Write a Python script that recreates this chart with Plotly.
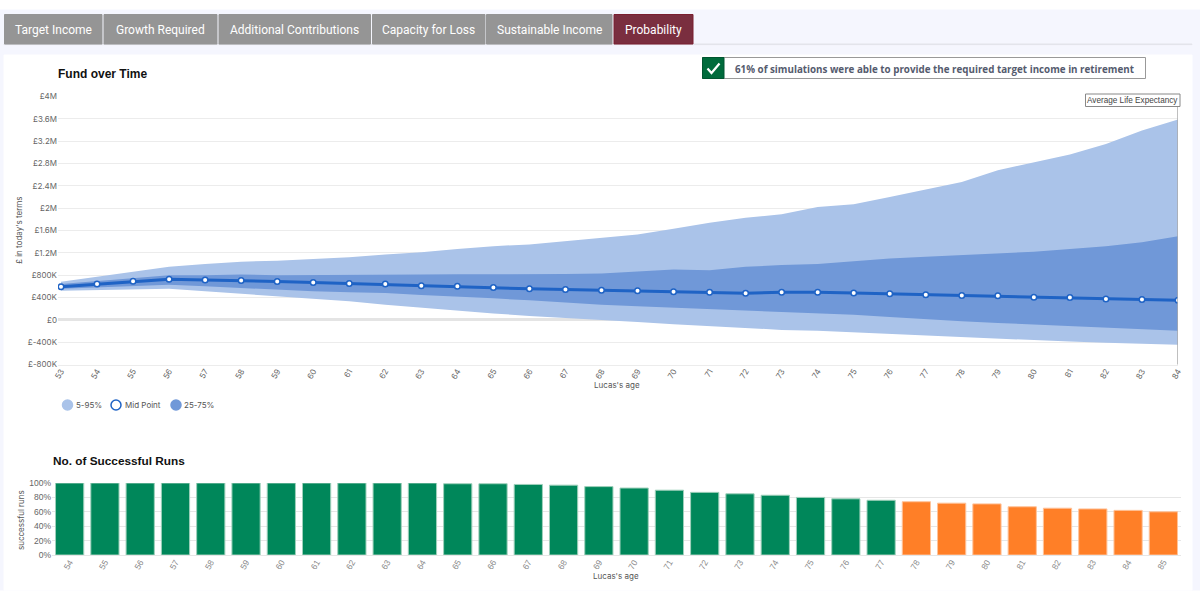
from plotly import graph_objects as go

# values in thousands of pounds
ages = list(range(53, 85))
upper_95 = [680, 770, 860, 950, 1000, 1040, 1060, 1090, 1120, 1170, 1210, 1270, 1320, 1350, 1410, 1480,
            1530, 1630, 1740, 1830, 1890, 2020, 2070, 2200, 2340, 2470, 2680, 2820, 2960, 3150, 3390, 3590]
upper_75 = [640, 690, 740, 800, 800, 810, 800, 800, 800, 800, 810, 815, 815, 810, 820, 830,
            865, 900, 890, 950, 980, 1000, 1050, 1100, 1130, 1160, 1190, 1220, 1270, 1320, 1390, 1495]
mid_point = [591, 640, 690, 728, 715, 705, 685, 670, 650, 640, 610, 600, 580, 555, 545, 530,
             520, 505, 495, 478, 495, 495, 480, 465, 450, 435, 430, 405, 400, 375, 365, 350]
lower_25 = [555, 580, 605, 627, 600, 570, 537, 510, 495, 480, 445, 418, 385, 350, 310, 270,
            245, 220, 190, 170, 143, 113, 90, 50, 10, -25, -56, -85, -115, -145, -170, -197]
lower_5 = [520, 530, 540, 555, 510, 465, 418, 375, 335, 270, 215, 165, 115, 70, 36, 0,
           -40, -80, -115, -150, -180, -197, -225, -255, -285, -315, -340, -365, -390, -410, -430, -448]

y_ticks = [-800, -400, 0, 400, 800, 1200, 1600, 2000, 2400, 2800, 3200, 3600, 4000]
y_labels = ["£-800K", "£-400K", "£0", "£400K", "£800K", "£1.2M", "£1.6M", "£2M", "£2.4M", "£2.8M", "£3.2M", "£3.6M", "£4M"]

run_ages = [str(a) for a in range(54, 86)]
run_pct = [100, 100, 100, 100, 100, 100, 100, 100, 100, 100, 100, 99, 99, 98, 97, 95,
           93, 90, 87, 85, 83, 80, 78, 76, 74, 72, 71, 67, 65, 64, 62, 60]
run_colors = ["#00875a"] * 24 + ["#ff7f27"] * 8
run_borders = ["#9fd0bb"] * 24 + ["#ffc39a"] * 8

tabs = ["Target Income", "Growth Required", "Additional Contributions", "Capacity for Loss", "Sustainable Income", "Probability"]
tab_edges = [(4.5, 102), (104, 217), (219, 370.5), (372.5, 485), (486.5, 612), (614, 693)]

LIGHT = "#aac3e9"
DARK = "#7098d8"
LINE = "#1f63c5"
W, H = 1200, 600
TICK_FONT = dict(family="Inter", size=8, color="#666666")


def fx(px):
    return px / W


def fy(py):
    return 1 - py / H


def rect(x0, y0, x1, y1, fill, line=None, width=1):
    return dict(type="rect", xref="paper", yref="paper", x0=fx(x0), x1=fx(x1), y0=fy(y0), y1=fy(y1),
                fillcolor=fill, line=dict(color=line or fill, width=width), layer="below")


def note(x, y, text, size=9, color="#555555", family="Inter", anchor="left", angle=0):
    return dict(xref="paper", yref="paper", x=fx(x), y=fy(y), text=text, showarrow=False, textangle=angle,
                xanchor=anchor, yanchor="middle", font=dict(size=size, color=color, family=family))


fig = go.Figure()

fig.add_trace(go.Scatter(x=ages, y=lower_5, mode="lines", line=dict(width=0), hoverinfo="skip", showlegend=False))
fig.add_trace(go.Scatter(x=ages, y=upper_95, mode="lines", line=dict(width=0), fill="tonexty", fillcolor=LIGHT, name="5-95%", showlegend=False))
fig.add_trace(go.Scatter(x=ages, y=lower_25, mode="lines", line=dict(width=0), hoverinfo="skip", showlegend=False))
fig.add_trace(go.Scatter(x=ages, y=upper_75, mode="lines", line=dict(width=0), fill="tonexty", fillcolor=DARK, name="25-75%", showlegend=False))
fig.add_trace(go.Scatter(x=ages, y=mid_point, mode="lines+markers", name="Mid Point", showlegend=False,
                         line=dict(color=LINE, width=3),
                         marker=dict(size=5.5, color="white", line=dict(color=LINE, width=1.5))))
fig.add_trace(go.Bar(x=run_ages, y=run_pct, xaxis="x2", yaxis="y2", showlegend=False,
                     marker=dict(color=run_colors, line=dict(color=run_borders, width=1))))

# page chrome
shapes = [
    rect(0, 10, W, 590, "#f5f6fe"),
    rect(4, 55, 1192, 590, "#ffffff"),
    rect(4, 44, 1192, 44.6, "#e3e4ea"),
]
annotations = []
for label, (x0, x1) in zip(tabs, tab_edges):
    active = label == "Probability"
    shapes.append(rect(x0, 14.5, x1, 44, "#7a2e3f" if active else "#959595", "#7a1f30" if active else "#959595"))
    annotations.append(note((x0 + x1) / 2, 29.5, label, size=12, color="#ffffff", family="Roboto", anchor="center"))

# result banner
shapes.append(rect(702.5, 57.5, 1145.5, 78.5, "#ffffff", "#999999"))
shapes.append(rect(702.5, 57.5, 724, 78.5, "#006b3c", "#005530"))
shapes.append(dict(type="path", xref="paper", yref="paper", layer="above", line=dict(color="white", width=2.2),
                   path=f"M {fx(707.5)} {fy(68.5)} L {fx(711.5)} {fy(73)} L {fx(719.5)} {fy(63.5)}"))
annotations.append(note(733, 69, "<b>61% of simulations were able to provide the required target income in retirement</b>",
                        size=9.8, color="#555b6e", family="Open Sans", anchor="left"))

# life expectancy marker
shapes.append(dict(type="line", xref="x", yref="paper", x0=84, x1=84, y0=fy(364.5), y1=fy(106),
                   line=dict(color="#aaaaaa", width=1.5), layer="above"))
shapes.append(dict(type="rect", xref="paper", yref="paper", x0=fx(1085.5), x1=fx(1180), y0=fy(94), y1=fy(106.5),
                   fillcolor="white", line=dict(color="#888888", width=1), layer="above"))
annotations.append(note(1132.5, 100.5, "Average Life Expectancy", size=8.2, color="#444444", family="Liberation Sans", anchor="center"))

# chart titles and axis titles
annotations.append(note(56, 73.5, "<b>Fund over Time</b>", size=12, color="#111111", family="Liberation Sans"))
annotations.append(note(51, 460.5, "<b>No. of Successful Runs</b>", size=11.8, color="#111111", family="Liberation Sans"))
annotations.append(note(19, 230, "£ in today's terms", size=8, color="#555555", anchor="center", angle=-90))
annotations.append(note(617, 385, "Lucas's age", size=8, color="#555555", anchor="center"))
annotations.append(note(21, 520, "successful runs", size=8, color="#555555", anchor="center", angle=-90))
annotations.append(note(616, 576, "Lucas's age", size=8, color="#555555", anchor="center"))

# hand drawn legend, the original uses round swatches
for cx, fill, line, text_x, text in [(67.5, LIGHT, LIGHT, 74, "5-95%"), (116, "#ffffff", LINE, 123, "Mid Point"), (176, DARK, DARK, 182, "25-75%")]:
    shapes.append(dict(type="circle", xref="paper", yref="paper", x0=fx(cx - 5), x1=fx(cx + 5), y0=fy(410), y1=fy(400),
                       fillcolor=fill, line=dict(color=line, width=1.5)))
    annotations.append(note(text_x, 405, text, size=8, color="#555555"))

fig.update_layout(
    width=W,
    height=H,
    margin=dict(l=0, r=0, t=0, b=0),
    paper_bgcolor="white",
    plot_bgcolor="rgba(0,0,0,0)",
    shapes=shapes,
    annotations=annotations,
    bargap=0.2,
    xaxis=dict(domain=[fx(58), fx(1178)], anchor="y", range=[52.917, 84], tickmode="array", tickvals=ages, ticktext=[str(a) for a in ages],
               tickangle=-60, showgrid=False, zeroline=False, tickfont=TICK_FONT, ticks="", showline=True, linecolor="#ececec", automargin=False,
               ticklabelstandoff=-2),
    yaxis=dict(domain=[fy(364.5), fy(96.5)], anchor="x", range=[-800, 4000], tickmode="array", tickvals=y_ticks, ticktext=y_labels,
               gridcolor="#ececec", zerolinecolor="#e4e4e4", zerolinewidth=3, tickfont=TICK_FONT, ticks="", automargin=False),
    xaxis2=dict(domain=[fx(52), fx(1181)], anchor="y2", type="category", tickangle=-60, showgrid=False,
                tickfont=dict(family="Liberation Sans", size=8.5, color="#888888"), showline=True, linecolor="#e6e6e6", automargin=False,
                ticklabelstandoff=-2),
    yaxis2=dict(domain=[fy(555), fy(483)], anchor="x2", range=[0, 100], tickmode="array", tickvals=[0, 20, 40, 60, 80, 100],
                ticktext=["0%", "20%", "40%", "60%", "80%", "100%"], gridcolor="#e6e6e6", zeroline=False,
                tickfont=dict(family="Liberation Sans", size=8.5, color="#666666"), ticks="", automargin=False),
)

fig.write_html("out.html", config=dict(displayModeBar=False), post_script="document.body.style.margin='0';document.body.style.overflow='hidden';")
